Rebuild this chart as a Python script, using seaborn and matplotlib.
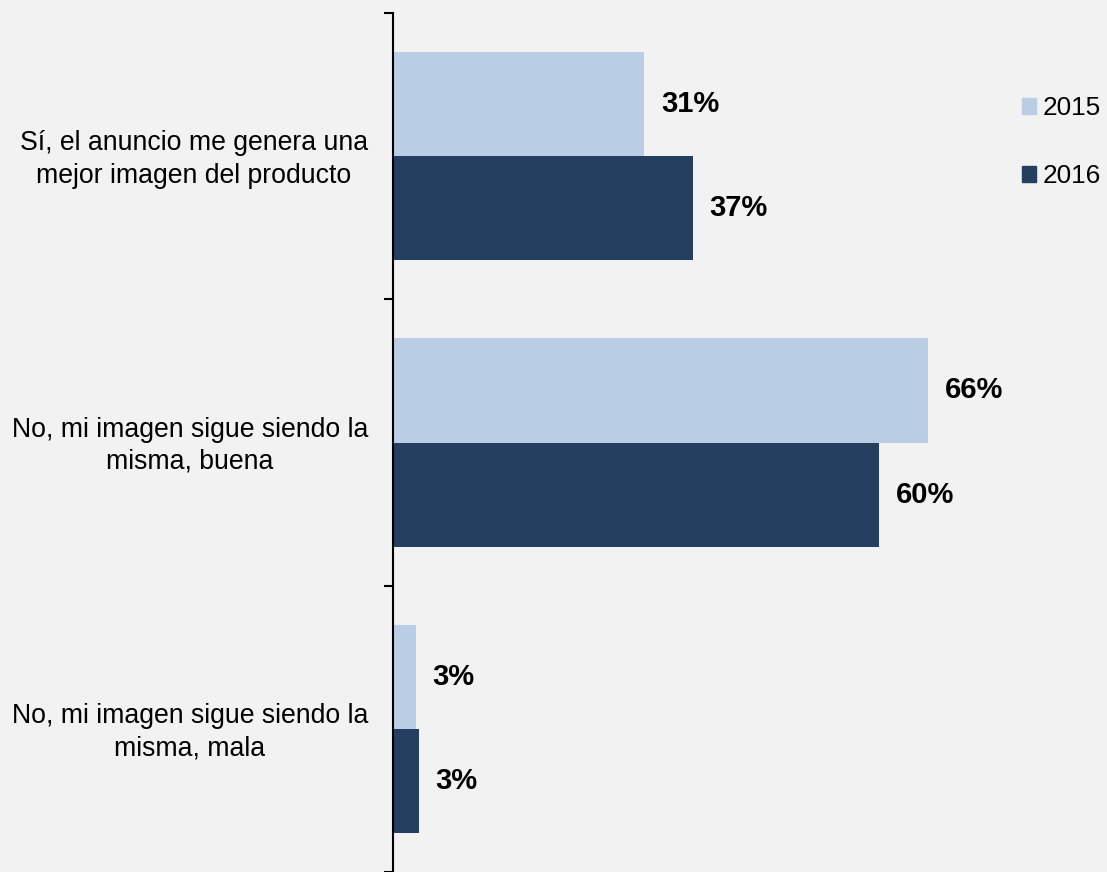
import matplotlib
matplotlib.use("Agg")
import matplotlib.pyplot as plt
import matplotlib.transforms as mtransforms
import seaborn as sns
import pandas as pd
from matplotlib.patches import Patch

categories = [
    "Sí, el anuncio me genera una\nmejor imagen del producto",
    "No, mi imagen sigue siendo la\nmisma, buena",
    "No, mi imagen sigue siendo la\nmisma, mala",
]
years = ["2015", "2016"]
values_2015 = [31, 66, 2.8]
values_2016 = [37, 60, 3.2]
colors = ["#B9CDE5", "#243F60"]

df = pd.DataFrame({
    "categoria": categories * 2,
    "anio": [years[0]] * len(categories) + [years[1]] * len(categories),
    "valor": values_2015 + values_2016,
})

plt.rcParams['font.family'] = ['Liberation Sans', 'DejaVu Sans']
bg = "#F2F2F2"
fig = plt.figure(figsize=(11.07, 8.72), dpi=100, facecolor=bg)
ax = fig.add_axes([393 / 1107, 0, 607 / 1107, 1 - 13 / 872])
ax.set_facecolor(bg)

sns.barplot(data=df, y="categoria", x="valor", hue="anio", orient="h",
            palette=colors, width=0.727, saturation=1, ax=ax,
            legend=False, errorbar=None)

ax.set_xlim(0, 607 / 8.106)
ax.set_ylim(2.5, -0.5)
ax.set_xlabel("")
ax.set_ylabel("")
for s in ["top", "right", "bottom"]:
    ax.spines[s].set_visible(False)
ax.spines["left"].set_linewidth(1.5)
ax.spines["left"].set_color("black")
ax.set_xticks([])

ax.tick_params(axis="y", which="major", length=0, pad=18, labelsize=19.2)
ax.set_yticks([-0.5, 0.5, 1.5, 2.5], minor=True)
ax.tick_params(axis="y", which="minor", length=6.5, width=1.5, color="black")
shift = mtransforms.ScaledTranslation(0, 3 / 100, fig.dpi_scale_trans)
for lbl in ax.get_yticklabels():
    lbl.set_multialignment("center")
    lbl.set_linespacing(1.32)
    lbl.set_transform(lbl.get_transform() + shift)

for cont, vals in zip(ax.containers, [values_2015, values_2016]):
    texts = ax.bar_label(cont, labels=[f"{v:.0f}%" for v in vals], padding=12,
                         fontsize=21, fontweight="bold", color="black")
    down = mtransforms.ScaledTranslation(0, -2 / 100, fig.dpi_scale_trans)
    for t in texts:
        t.set_transform(t.get_transform() + down)

fig.legend(handles=[Patch(color=c) for c in colors], labels=years,
           loc="center left", bbox_to_anchor=(1022 / 1107, 1 - 142 / 872),
           frameon=False, fontsize=18.8, handlelength=0.55, handleheight=0.55,
           handletextpad=0.25, labelspacing=1.68, borderaxespad=0, borderpad=0)

fig.savefig("out.png", dpi=100, facecolor=bg)
